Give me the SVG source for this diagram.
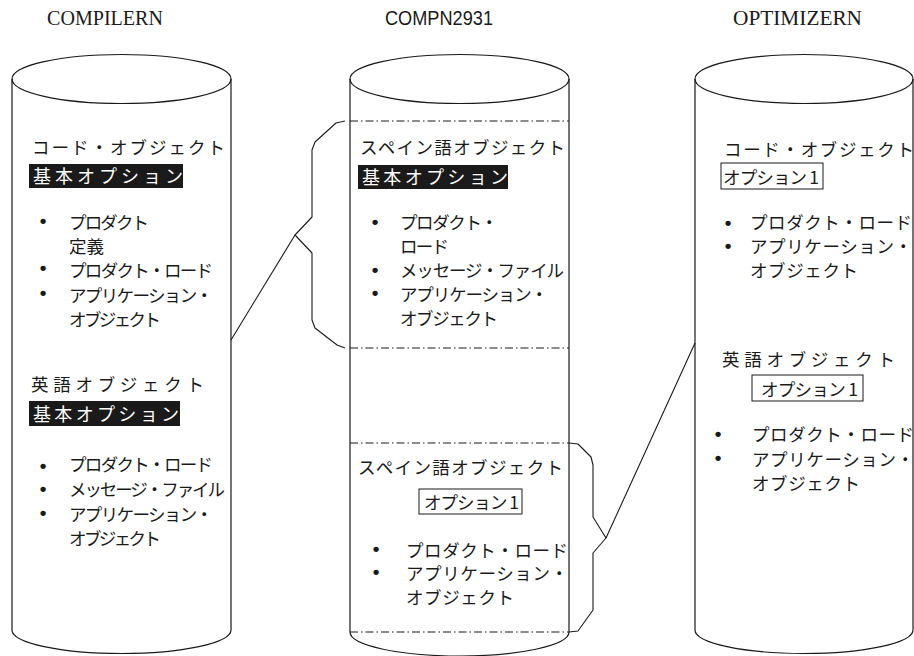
<svg xmlns="http://www.w3.org/2000/svg" width="914" height="656" viewBox="0 0 914 656">
<style>
.bg{fill:#fff}
.cyl{fill:none;stroke:#1a1a1a;stroke-width:1.2}
.dd{fill:none;stroke:#1a1a1a;stroke-width:1.2;stroke-dasharray:8 3 1.5 3}
.con{fill:none;stroke:#1a1a1a;stroke-width:1.1;stroke-linejoin:round}
.jp{font-family:"Noto Sans CJK JP","Noto Sans CJK SC",sans-serif;font-size:17.5px;fill:#1a1a1a}
.inv{font-family:"Noto Sans CJK JP","Noto Sans CJK SC",sans-serif;font-size:18px;fill:#fff}
.blk{fill:#1a1a1a}
.obox{fill:none;stroke:#1a1a1a;stroke-width:1}
.bul{font-family:"Liberation Sans",sans-serif;font-size:19px;font-weight:bold;fill:#1a1a1a;text-anchor:middle}
.tser{font-family:"Liberation Serif",serif;font-size:22px;fill:#1a1a1a}
.tsan{font-family:"Liberation Sans",sans-serif;font-size:21px;fill:#1a1a1a}
</style>
<rect class="bg" x="0" y="0" width="914" height="656"/>

<g id="compilern">
  <text class="tser" x="47" y="25" textLength="116" lengthAdjust="spacingAndGlyphs">COMPILERN</text>
  <ellipse class="cyl" cx="121.5" cy="79" rx="109.5" ry="24.5"/>
  <path class="cyl" d="M12,79 L12,630 A109.5,23.5 0 0 0 231,630 L231,79"/>
  <text class="jp" x="32" y="154" textLength="193" lengthAdjust="spacing">コード・オブジェクト</text>
  <rect class="blk" x="29" y="164" width="154" height="24"/>
  <text class="inv" x="33" y="183" textLength="150" lengthAdjust="spacing">基本オプション</text>
  <text class="bul" x="43" y="227">•</text>
  <text class="jp" x="69" y="229" textLength="80" lengthAdjust="spacing">プロダクト</text>
  <text class="jp" x="69" y="253">定義</text>
  <text class="bul" x="43" y="274">•</text>
  <text class="jp" x="69" y="277" textLength="144" lengthAdjust="spacing">プロダクト・ロード</text>
  <text class="bul" x="43" y="299">•</text>
  <text class="jp" x="69" y="302" textLength="144" lengthAdjust="spacing">アプリケーション・</text>
  <text class="jp" x="69" y="326" textLength="92" lengthAdjust="spacing">オブジェクト</text>
  <text class="jp" x="31" y="391" textLength="173" lengthAdjust="spacing">英語オブジェクト</text>
  <rect class="blk" x="29" y="401" width="151" height="25"/>
  <text class="inv" x="33" y="421" textLength="146" lengthAdjust="spacing">基本オプション</text>
  <text class="bul" x="43" y="472">•</text>
  <text class="jp" x="69" y="471" textLength="144" lengthAdjust="spacing">プロダクト・ロード</text>
  <text class="bul" x="43" y="495">•</text>
  <text class="jp" x="69" y="496" textLength="156" lengthAdjust="spacing">メッセージ・ファイル</text>
  <text class="bul" x="43" y="519">•</text>
  <text class="jp" x="69" y="521" textLength="144" lengthAdjust="spacing">アプリケーション・</text>
  <text class="jp" x="69" y="545" textLength="92" lengthAdjust="spacing">オブジェクト</text>
</g>

<g id="compn2931">
  <text class="tsan" x="385" y="25" textLength="108" lengthAdjust="spacingAndGlyphs">COMPN2931</text>
  <ellipse class="cyl" cx="459.5" cy="79" rx="109.5" ry="24.5"/>
  <path class="cyl" d="M350,79 L350,632 A109.5,24 0 0 0 569,632 L569,79"/>
  <line class="dd" x1="350" y1="121" x2="569" y2="121"/>
  <line class="dd" x1="350" y1="348" x2="569" y2="348"/>
  <line class="dd" x1="350" y1="443" x2="569" y2="443"/>
  <line class="dd" x1="350" y1="632" x2="569" y2="632"/>
  <text class="jp" x="360" y="154" textLength="205" lengthAdjust="spacing">スペイン語オブジェクト</text>
  <rect class="blk" x="358" y="165" width="150" height="24"/>
  <text class="inv" x="362" y="184" textLength="146" lengthAdjust="spacing">基本オプション</text>
  <text class="bul" x="375" y="228">•</text>
  <text class="jp" x="400" y="229" textLength="98" lengthAdjust="spacing">プロダクト・</text>
  <text class="jp" x="400" y="253" textLength="49" lengthAdjust="spacing">ロード</text>
  <text class="bul" x="375" y="276">•</text>
  <text class="jp" x="400" y="277" textLength="164" lengthAdjust="spacing">メッセージ・ファイル</text>
  <text class="bul" x="375" y="299">•</text>
  <text class="jp" x="400" y="301" textLength="148" lengthAdjust="spacing">アプリケーション・</text>
  <text class="jp" x="400" y="325" textLength="98" lengthAdjust="spacing">オブジェクト</text>
  <text class="jp" x="358" y="474" textLength="205" lengthAdjust="spacing">スペイン語オブジェクト</text>
  <rect class="obox" x="419" y="489" width="103" height="25"/>
  <text class="jp" x="424" y="509" textLength="95" lengthAdjust="spacing">オプション 1</text>
  <text class="bul" x="376" y="555">•</text>
  <text class="jp" x="406" y="557" textLength="162" lengthAdjust="spacing">プロダクト・ロード</text>
  <text class="bul" x="376" y="578">•</text>
  <text class="jp" x="406" y="580" textLength="162" lengthAdjust="spacing">アプリケーション・</text>
  <text class="jp" x="406" y="604" textLength="108" lengthAdjust="spacing">オブジェクト</text>
</g>

<g id="optimizern">
  <text class="tser" x="733" y="25" textLength="129" lengthAdjust="spacingAndGlyphs">OPTIMIZERN</text>
  <ellipse class="cyl" cx="804" cy="79" rx="109" ry="24.5"/>
  <path class="cyl" d="M695,79 L695,630 A109,23.5 0 0 0 913,630 L913,79"/>
  <text class="jp" x="724" y="156" textLength="190" lengthAdjust="spacing">コード・オブジェクト</text>
  <rect class="obox" x="721" y="163" width="102" height="26"/>
  <text class="jp" x="723" y="184" textLength="96" lengthAdjust="spacing">オプション 1</text>
  <text class="bul" x="728" y="229">•</text>
  <text class="jp" x="750" y="229" textLength="162" lengthAdjust="spacing">プロダクト・ロード</text>
  <text class="bul" x="728" y="252">•</text>
  <text class="jp" x="750" y="253" textLength="162" lengthAdjust="spacing">アプリケーション・</text>
  <text class="jp" x="750" y="277" textLength="108" lengthAdjust="spacing">オブジェクト</text>
  <text class="jp" x="722" y="366" textLength="173" lengthAdjust="spacing">英語オブジェクト</text>
  <rect class="obox" x="752" y="375" width="111" height="26"/>
  <text class="jp" x="761" y="396" textLength="97" lengthAdjust="spacing">オプション 1</text>
  <text class="bul" x="718" y="440">•</text>
  <text class="jp" x="752" y="441" textLength="162" lengthAdjust="spacing">プロダクト・ロード</text>
  <text class="bul" x="718" y="464">•</text>
  <text class="jp" x="752" y="466" textLength="162" lengthAdjust="spacing">アプリケーション・</text>
  <text class="jp" x="752" y="490" textLength="108" lengthAdjust="spacing">オブジェクト</text>
</g>

<g id="connectors">
  <path class="con" d="M345,121 L336,123 L315,142 L312,150 L312,217 L295,235 L312,253 L312,320 L315,328 L337,345 L345,348"/>
  <path class="con" d="M231,340 L295,235"/>
  <path class="con" d="M569,443 L578,444 L591,457 L593,465 L593,517 L606,538 L593,553 L593,610 L578,631 L569,632"/>
  <path class="con" d="M606,538 L695,343"/>
</g>
</svg>
